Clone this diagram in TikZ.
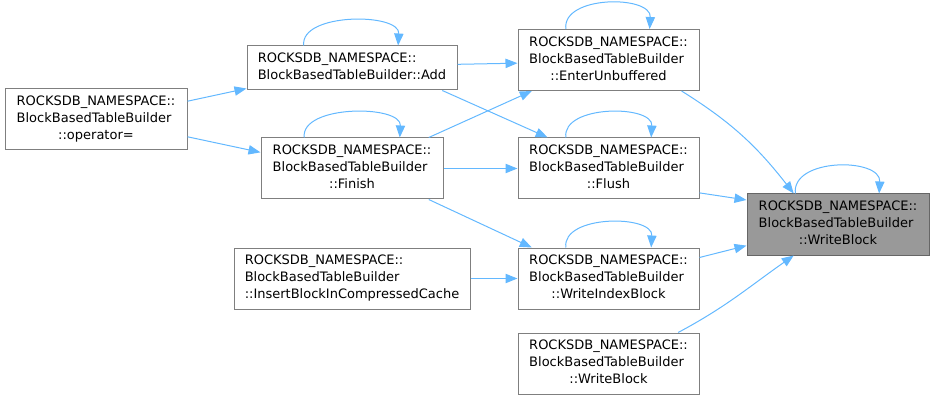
\documentclass[tikz,border=0pt]{standalone}
\usepackage{fontspec}
\setmainfont{DejaVu Sans}
\usepackage{tikz}
\usetikzlibrary{arrows.meta}
\definecolor{edgeblue}{HTML}{63B8FF}
\definecolor{boxline}{HTML}{7F7F7F}
\definecolor{rootline}{HTML}{666666}
\definecolor{rootfill}{HTML}{999999}
\newcommand{\fnname}[3]{\begin{tabular}{@{}l@{}}#1\\#2\\\multicolumn{1}{@{}c@{}}{#3}\end{tabular}}
\tikzset{fnbox/.style={rectangle,draw=boxline,fill=white,line width=.75pt,inner sep=0pt,minimum height=61*.75pt,font=\fontsize{9.75}{12.75}\selectfont},rootbox/.style={fnbox,draw=rootline,fill=rootfill},call/.style={draw=edgeblue,line width=.75pt,-{Triangle[length=9pt,width=7pt]}},selfcall/.style={call}}

\begin{document}
\begin{tikzpicture}[x=.75pt,y=.75pt]
\useasboundingbox (0,0) rectangle (934,400);
\node[fnbox,minimum width=182*.75pt] (opr) at (96,281) {\fnname{ROCKSDB\_NAMESPACE::}{BlockBasedTableBuilder}{::operator=}};
\node[fnbox,minimum width=210*.75pt,minimum height=44*.75pt] (add) at (352,332) {\begin{tabular}{@{}l@{}}ROCKSDB\_NAMESPACE::\\BlockBasedTableBuilder::Add\end{tabular}};
\node[fnbox,minimum width=182*.75pt] (fin) at (352,231.5) {\fnname{ROCKSDB\_NAMESPACE::}{BlockBasedTableBuilder}{::Finish}};
\node[fnbox,minimum width=236*.75pt] (ins) at (352,121.5) {\fnname{ROCKSDB\_NAMESPACE::}{BlockBasedTableBuilder}{::InsertBlockInCompressedCache}};
\node[fnbox,minimum width=181*.75pt] (ent) at (608.5,340) {\fnname{ROCKSDB\_NAMESPACE::}{BlockBasedTableBuilder}{::EnterUnbuffered}};
\node[fnbox,minimum width=181*.75pt] (flu) at (608.5,231.5) {\fnname{ROCKSDB\_NAMESPACE::}{BlockBasedTableBuilder}{::Flush}};
\node[fnbox,minimum width=181*.75pt] (wib) at (608.5,121.5) {\fnname{ROCKSDB\_NAMESPACE::}{BlockBasedTableBuilder}{::WriteIndexBlock}};
\node[fnbox,minimum width=181*.75pt] (wbb) at (608.5,36.5) {\fnname{ROCKSDB\_NAMESPACE::}{BlockBasedTableBuilder}{::WriteBlock}};
\node[rootbox,minimum width=182*.75pt] (wb) at (838,175.5) {\fnname{ROCKSDB\_NAMESPACE::}{BlockBasedTableBuilder}{::WriteBlock}};
% calls
\draw[call] (opr.11) -- (add.191);
\draw[call] (opr.-11) -- (fin.170);
\draw[call] (add.2) -- (ent.182);
\draw[call] (add.-14.5) -- (flu.153);
\draw[call] (fin.22) -- (ent.202);
\draw[call] (fin.east) -- (flu.west);
\draw[call] (fin.-22) -- (wib.158);
\draw[call] (ins.east) -- (wib.west);
\draw[call] (ent.-23) to[out=-32,in=128] (wb.145);
\draw[call] (flu.-15) -- (wb.165);
\draw[call] (wib.13) -- (wb.193);
\draw[call] (wbb.24) to[out=28,in=-145] (wb.215);
% recursive calls
\draw[selfcall] (add.155) .. controls +(-4,33) and +(2,33) .. (add.26);
\draw[selfcall] (fin.147) .. controls +(-4,33) and +(2,33) .. (fin.33.5);
\draw[selfcall] (ent.144) .. controls +(-4,34) and +(2,34) .. (ent.37);
\draw[selfcall] (flu.144) .. controls +(-4,33) and +(2,33) .. (flu.36);
\draw[selfcall] (wib.144) .. controls +(-4,33) and +(2,33) .. (wib.36);
\draw[selfcall] (wb.144.6) .. controls +(-4,36) and +(2,36) .. (wb.37);
\end{tikzpicture}
\end{document}
